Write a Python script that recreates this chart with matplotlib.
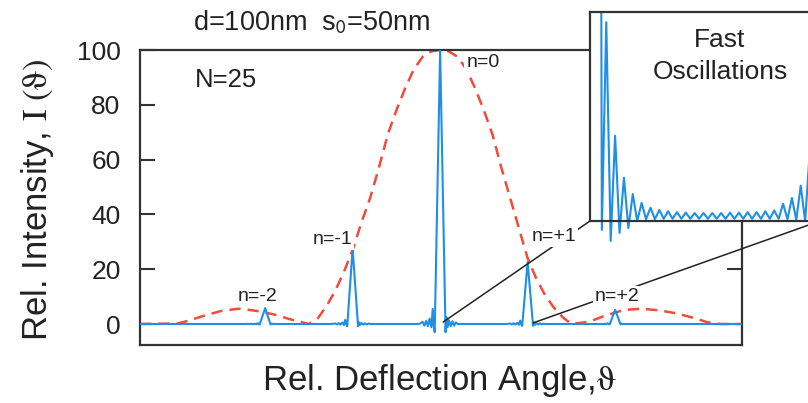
import numpy as np
import matplotlib
matplotlib.use("Agg")
import matplotlib.pyplot as plt
from matplotlib.patches import ConnectionPatch, Rectangle

plt.rcParams['font.family'] = ['Liberation Sans', 'DejaVu Sans']
plt.rcParams['mathtext.fontset'] = 'stix'

# Principal maxima of the grating: diffraction order and relative intensity
orders = [-2, -1, 0, 1, 2]
order_heights = [5.8, 27.5, 100.0, 22.6, 5.2]
order_labels = ['n=-2', 'n=-1', 'n=0', 'n=+1', 'n=+2']

# Shape of one principal maximum with its nearest side lobes
# (offset in orders, fraction of the peak height)
peak_dx = [-0.24, -0.20, -0.18, -0.16, -0.14, -0.12, -0.10, -0.085, -0.072, -0.062,
           0.0, 0.062, 0.072, 0.085, 0.10, 0.12, 0.14, 0.16, 0.18, 0.20, 0.24]
peak_rel = [0.0, 0.008, -0.006, 0.012, -0.008, 0.02, -0.012, 0.055, -0.01, -0.03,
            1.0, -0.03, 0.025, -0.012, 0.014, -0.008, 0.01, -0.006, 0.006, 0.0, 0.0]

# Single slit envelope
env_x = [-3.43, -3.0, -2.9, -2.7, -2.5, -2.3, -2.1, -1.9, -1.7, -1.5,
         -1.4, -1.3, -1.2, -1.1, -1.0, -0.9, -0.8, -0.7, -0.6, -0.5,
         -0.4, -0.3, -0.2, -0.1, 0.0, 0.1, 0.2, 0.3, 0.4, 0.5,
         0.6, 0.7, 0.8, 0.9, 1.0, 1.1, 1.2, 1.3, 1.4, 1.5,
         1.7, 1.9, 2.1, 2.3, 2.5, 2.7, 2.9, 3.05, 3.2, 3.45]
env_y = [0.0, 0.2, 1.0, 3.0, 4.8, 5.6, 4.8, 3.5, 1.6, 0.0,
         2.0, 6.5, 12.0, 19.0, 27.0, 37.0, 46.0, 57.0, 69.0, 78.0,
         86.0, 93.0, 97.5, 99.5, 100.0, 99.5, 97.5, 93.0, 86.0, 78.0,
         69.0, 57.0, 46.0, 35.0, 24.0, 16.5, 10.5, 6.0, 2.5, 0.0,
         0.8, 3.2, 5.1, 5.6, 5.0, 3.9, 2.2, 0.7, 0.0, 0.0]

# Fast oscillations between n=0 and n=+1 (fringe index, relative intensity)
fringe_k = np.arange(0, 25, 0.5)
fringe_I = [100.0, 40.0, -0.2, 4.5, -0.45, 1.93, -0.27, 0.98, -0.16, 0.61,
            0.0, 0.41, 0.04, 0.30, 0.04, 0.25, 0.05, 0.22, 0.05, 0.20,
            0.05, 0.19, 0.05, 0.18, 0.05, 0.18, 0.05, 0.18, 0.05, 0.18,
            0.05, 0.19, 0.05, 0.19, 0.05, 0.20, 0.05, 0.20, 0.05, 0.22,
            0.05, 0.24, 0.05, 0.39, 0.04, 0.52, 0.03, 0.80, 0.0, 1.5]

x_lo, x_hi = -3.43, 3.45
blue = '#1f8fe6'
red = '#ef4c3c'
dark = '#333333'

# grating curve: flat baseline with the principal maxima
bx = [x_lo]
by = [0.0]
for n, h in zip(orders, order_heights):
    bx += [n + d for d in peak_dx]
    by += [h * r for r in peak_rel]
bx.append(x_hi)
by.append(0.0)

fig = plt.figure(figsize=(8.08, 4.03), dpi=100)
ax = fig.add_axes([140 / 808, 58 / 403, 602 / 808, 295 / 403])

ax.plot(env_x, env_y, color=red, lw=1.8, ls=(0, (4.5, 2.8)), zorder=2)
ax.plot(bx, by, color=blue, lw=1.5, zorder=3)

ax.set_xlim(x_lo, x_hi)
ax.set_ylim(-7.66, 100)
ax.set_xticks([])
ax.set_yticks([0, 20, 40, 60, 80, 100])
ax.tick_params(axis='y', direction='in', length=11, width=1.5, color=dark,
               labelsize=19, labelcolor='#222222', pad=14, right=True)
for s in ax.spines.values():
    s.set_color(dark)
    s.set_linewidth(1.6)

# order labels
label_pos = {'n=-2': (-2.09, 9.9), 'n=-1': (-1.23, 31.0), 'n=0': (0.49, 95.6),
             'n=+1': (1.30, 31.8), 'n=+2': (2.02, 9.9)}
for lab in order_labels:
    x, y = label_pos[lab]
    ax.text(x, y, lab, fontsize=14, color='#222222', ha='center', va='center',
            zorder=5, bbox=dict(boxstyle='square,pad=0.1', fc='white', ec='none'))

ax.text(-2.45, 89, 'N=25', fontsize=18.5, color='#222222', ha='center', va='center')

fig.text(312 / 808, 380 / 403, r'd=100nm  s$_\mathsf{0}$=50nm', fontsize=19.5,
         color='#222222', ha='center', va='center')
fig.text(440 / 808, 13 / 403, r'Rel. Deflection Angle,$\mathrm{\vartheta}$',
         fontsize=25, color='#222222', ha='center', va='baseline')
fig.text(38 / 808, 203 / 403, r'Rel. Intensity, $\mathrm{I}\ (\mathrm{\vartheta})$',
         fontsize=25, color='#222222', ha='center', va='center', rotation=90)

# inset with the fast oscillations
axi = fig.add_axes([590 / 808, 182 / 403, 230 / 808, 209 / 403])
axi.set_facecolor('white')
ln, = axi.plot(fringe_k, fringe_I, color=blue, lw=1.5)
clip = Rectangle((0, -0.15), 1, 1.15, transform=axi.transAxes, visible=False)
ln.set_clip_path(clip)
axi.set_xlim(-0.34, 25.68)
axi.set_ylim(0, 4.73)
axi.set_xticks([])
axi.set_yticks([])
for s in axi.spines.values():
    s.set_color(dark)
    s.set_linewidth(1.6)
axi.text(0.565, 0.79, 'Fast\nOscillations', transform=axi.transAxes,
         fontsize=19, color='#222222', ha='center', va='center', linespacing=1.4)

# connectors from the main plot to the inset corners
for xy, corner in [((0.034, 0.7), (0, 0)), ((1.063, 0.4), (1, 0))]:
    con = ConnectionPatch(xyA=xy, coordsA=ax.transData, xyB=corner,
                          coordsB=axi.transAxes, color='#222222', lw=1.1, zorder=4)
    ax.add_artist(con)

fig.savefig('out.png', dpi=100)
